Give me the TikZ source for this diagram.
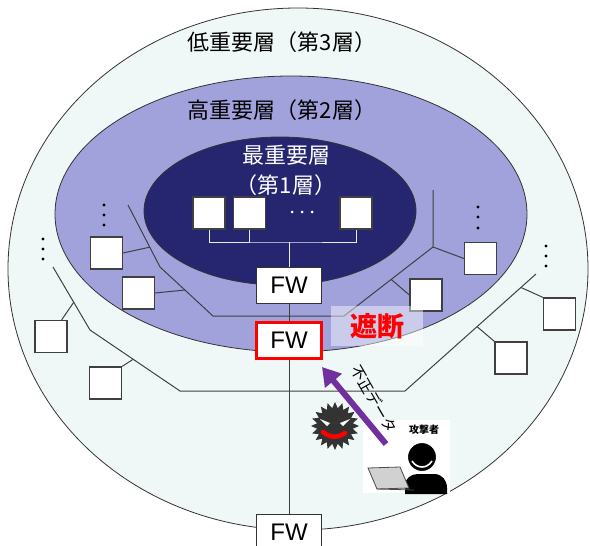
\documentclass[tikz,border=0pt]{standalone}
\usepackage{fontspec}
\setmainfont{Liberation Sans}
\newfontfamily\jpfont{Noto Sans CJK JP}
\usetikzlibrary{arrows.meta,positioning,shapes.geometric,calc}
\definecolor{lowfill}{HTML}{F0F8F7}
\definecolor{highfill}{HTML}{A1A1DC}
\definecolor{topfill}{HTML}{262670}
\definecolor{attack}{HTML}{7030A0}
\definecolor{virus}{HTML}{333333}

\begin{document}
\begin{tikzpicture}[
  x=1pt, y=-1pt,
  layer/.style={ellipse, draw=black!80, line width=0.8pt, inner sep=0pt},
  net/.style={draw=black!75, line width=1pt},
  coreline/.style={draw=black!8, line width=1pt},
  host/.style={draw=black!75, fill=white, line width=1.2pt, minimum size=32pt, inner sep=0pt},
  fwbox/.style={draw=black!80, fill=white, line width=1pt, minimum width=65pt, minimum height=36pt, inner sep=0pt, font=\fontsize{24}{24}\selectfont},
  layername/.style={font=\jpfont\fontsize{22}{30}\selectfont, align=center},
  dotmark/.style={circle, fill=black, inner sep=0pt, minimum size=3.2pt},
  attackarrow/.style={-{Triangle[width=21pt,length=18pt]}, draw=attack, line width=6pt}
]

\useasboundingbox (0,0) rectangle (590,546);
\clip (0,0) rectangle (590,546);
\fill[white] (0,0) rectangle (590,546);

\node[layer, fill=lowfill, minimum width=580pt, minimum height=522pt] (lowlayer) at (298,269) {};
\node[layer, fill=highfill, minimum width=472pt, minimum height=276pt] (highlayer) at (291,214) {};
\node[layer, fill=topfill, minimum width=272pt, minimum height=148pt] (toplayer) at (280,211) {};

\node[layername] (lowname) at (282,42) {低重要層（第3層）};
\node[layername] (highname) at (282,110) {高重要層（第2層）};
\node[layername, text=white] (topname) at (286,170) {最重要層\\（第1層）};

% second layer network
\coordinate (ha) at (128,205);
\coordinate (hb) at (160,267);
\coordinate (hc) at (213,316);
\coordinate (hd) at (344,316);
\coordinate (he) at (433,247);
\coordinate (hf) at (433,190);
\draw[net] (ha) -- (hb) -- (hc) -- (hd) -- (he) -- (hf);

\node[host] (hl1) at (106.5,253) {};
\node[host] (hl2) at (138.5,293) {};
\node[host] (hr1) at (480.5,258.5) {};
\node[host] (hr2) at (426,295) {};
\draw[net] ($(ha)!0.68!(hb)$) -- (hl1.east);
\draw[net] ($(hb)!0.47!(hc)$) -- (hl2.east);
\draw[net] (he) -- (hr1.west);
\draw[net] ($(he)!0.47!(hd)$) -- (hr2.west);

\foreach \y in {205,215,225} \node[dotmark] (hldot\y) at (104,\y) {};
\foreach \y in {207,217,228} \node[dotmark] (hrdot\y) at (478,\y) {};

% third layer network
\coordinate (la) at (53,267);
\coordinate (lb) at (90,330);
\coordinate (lc) at (180,391);
\coordinate (ld) at (405,391);
\coordinate (le) at (536,274);
\draw[net] (la) -- (lb) -- (lc) -- (ld) -- (le);

\node[host] (ll1) at (51,336.5) {};
\node[host] (ll2) at (105.5,383) {};
\node[host] (lr1) at (559.5,314) {};
\node[host] (lr2) at (511,358) {};
\draw[net] ($(la)!0.56!(lb)$) -- ([xshift=-6pt]ll1.north east);
\draw[net] ($(lb)!0.48!(lc)$) -- (ll2.north east);
\draw[net] ($(ld)!0.885!(le)$) -- (lr1.north west);
\draw[net] ($(ld)!0.55!(le)$) -- (lr2.north west);

\foreach \y in {239,249,259} \node[dotmark] (lldot\y) at (43,\y) {};
\foreach \y in {246,256,266} \node[dotmark] (lrdot\y) at (546,\y) {};

% top layer hosts
\node[host] (c1) at (209,213) {};
\node[host] (c2) at (249.5,213) {};
\node[host] (c3) at (356,213) {};
\foreach \x in {292,302,312} \node[dotmark, fill=white, minimum size=3pt] (cdot\x) at (\x,212) {};

% firewalls
\node[fwbox] (fwcore) at (289,285.5) {FW};
\node[fwbox, draw=red, line width=3.5pt] (fwhigh) at (289,340.5) {FW};
\node[fwbox] (fwlow) at (289,532) {FW};

\coordinate (corebus) at (289,242);
\draw[coreline] (c1.south) |- (corebus) -| (c3.south);
\draw[coreline] (c2.south) -- (c2.south |- corebus);
\draw[coreline] (corebus) -- (fwcore);
\draw[net] (fwcore) -- (fwhigh);
\draw[net] (fwhigh) -- (fwlow);

\node[fill=white, fill opacity=0.45, text opacity=1, minimum width=92pt, minimum height=40pt, text=red, font=\jpfont\bfseries\fontsize{27}{27}\selectfont] (block) at (377,326) {遮断};

% attacker
\node[fill=white, minimum width=87pt, minimum height=73pt, inner sep=0pt] (attacker) at (406.5,456.5) {};
\node[font=\jpfont\bfseries\fontsize{10}{10}\selectfont] (attackername) at (424,430) {攻撃者};
\fill[black] (405,494) -- (405,486) .. controls (405,478) and (411,474) .. (418,474) -- (434,474) .. controls (442,474) and (447,480) .. (447,488) -- (447,494) -- cycle;
\filldraw[fill=black, draw=white, line width=2pt] (422,457) circle [radius=15pt];
\draw[white, line width=1.6pt] (412,461) .. controls (417,469) and (427,469) .. (432,461);
\filldraw[fill=black!18, draw=black!70, line width=0.8pt] (368,468) -- (400,467) -- (409,488) -- (377,489) -- cycle;
\draw[black!70, line width=0.8pt] (377,489) -- (414,490);

% malware
\fill[virus] ($(335,426)+(0:24)$) \foreach \k in {1,...,39} { -- ($(335,426)+({\k*9}:{24-6*mod(\k,2)})$) } -- cycle;
\fill[white] (320,419) -- (330,423) -- (327,426) -- cycle;
\fill[white] (350,419) -- (340,423) -- (343,426) -- cycle;
\draw[red, line width=4.5pt, line cap=round] (323,432) .. controls (330,438) and (338,438) .. (345,433);

\coordinate (datatail) at (386,444);
\coordinate (datahead) at (322,367);
\draw[attackarrow] (datatail) -- (datahead);
\node[font=\jpfont\fontsize{15}{15}\selectfont, rotate=-60] (dataname) at (374,399) {不正データ};

\end{tikzpicture}
\end{document}
